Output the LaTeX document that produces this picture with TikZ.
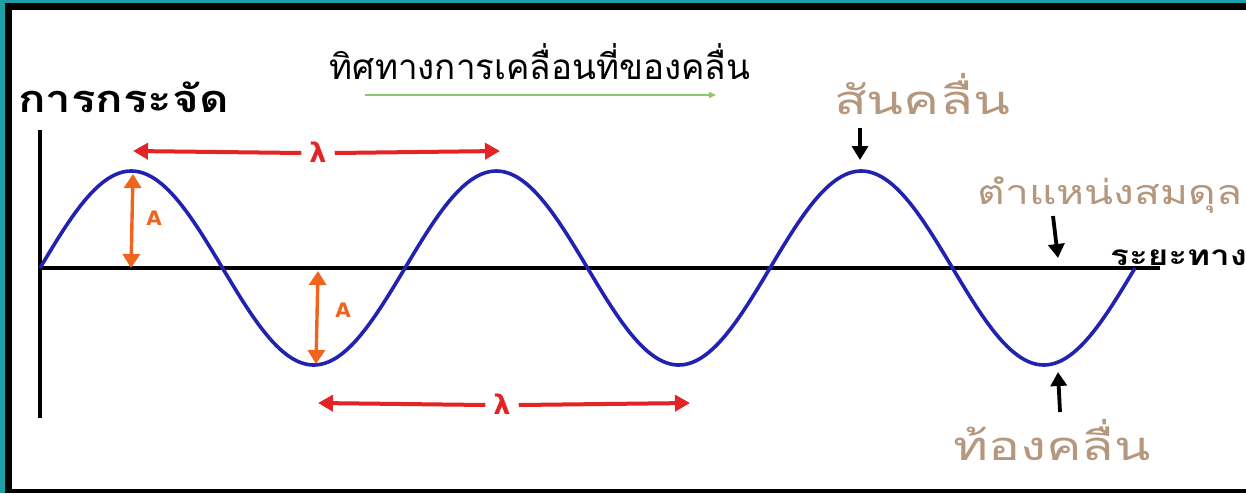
\documentclass[tikz,border=0pt]{standalone}
\usepackage{fontspec}
\newfontfamily\thai[Script=Thai]{Loma}
\newfontfamily\dejavu{DejaVu Sans}
\usetikzlibrary{arrows.meta}
\definecolor{teal0}{HTML}{1E9FA6}
\definecolor{wblue}{HTML}{2222B0}
\definecolor{lred}{HTML}{E22424}
\definecolor{aorange}{HTML}{F0641E}
\definecolor{tan0}{HTML}{B4977C}
\definecolor{lgreen}{HTML}{8CC86E}
\tikzset{
  axis/.style={line width=3.2pt,black},
  wave/.style={line width=3.6pt,wblue},
  lam/.style={line width=4pt,lred,-{Triangle[length=15pt,width=16pt]}},
  amp/.style={line width=3.4pt,aorange,{Triangle[length=14pt,width=17pt]}-{Triangle[length=14pt,width=17pt]}},
  pointer/.style={line width=3.8pt,black,-{Triangle[length=14pt,width=16pt]}},
  tanlbl/.style={text=tan0,inner sep=0pt},
  blacklbl/.style={text=black,inner sep=0pt},
  lamlbl/.style={text=lred,font=\dejavu\bfseries\fontsize{27}{29}\selectfont,inner sep=0pt},
  alb/.style={text=aorange,font=\dejavu\bfseries\fontsize{20}{22}\selectfont,inner sep=0pt}
}
\begin{document}
\begin{tikzpicture}[x=1pt,y=-1pt]
\useasboundingbox (0,0) rectangle (1246,493);
\fill[teal0] (0,0) rectangle (1246,493);
\fill[black] (5,3) rectangle (1246,493);
\fill[white] (12,10) rectangle (1246,489);
% axes
\coordinate (vtop) at (40,130);
\coordinate (vbot) at (40,418);
\coordinate (hl) at (40,268);
\coordinate (hr) at (1160,268);
\draw[axis] (vtop) -- (vbot);
\draw[axis] (hl) -- (hr);
% wave
\draw[wave] plot[domain=40:1135,samples=240,smooth] (\x,{268-97*sin((\x-40)*0.98630137)});
% title and green arrow
\node[font=\thai\fontsize{35}{37}\selectfont,inner sep=0pt] (title) at (540,62) {ทิศทางการเคลื่อนที่ของคลื่น};
\coordinate (g1) at (365,95);
\coordinate (g2) at (716,95);
\draw[lgreen,line width=1.5pt,-{Triangle[length=7pt,width=6pt]}] (g1) -- (g2);
% axis labels
\node[blacklbl,anchor=west,font=\thai\bfseries\fontsize{38}{40}\selectfont] (ylbl) at (18,97) {\scalebox{1.2}[1]{การกระจัด}};
\node[blacklbl,anchor=west,font=\thai\bfseries\fontsize{28}{30}\selectfont] (xlbl) at (1110,258) {\scalebox{1.25}[1]{ระยะทาง}};
% wavelength arrows
\node[lamlbl] (lam1) at (318,152) {λ};
\coordinate (l1a) at (133,151);
\coordinate (l1b) at (500,151);
\draw[lam] ([xshift=-8pt,yshift=-1pt]lam1.west) -- (l1a);
\draw[lam] ([xshift=8pt,yshift=-1pt]lam1.east) -- (l1b);
\node[lamlbl] (lam2) at (502,404) {λ};
\coordinate (l2a) at (318,403);
\coordinate (l2b) at (690,403);
\draw[lam] ([xshift=-8pt,yshift=-1pt]lam2.west) -- (l2a);
\draw[lam] ([xshift=8pt,yshift=-1pt]lam2.east) -- (l2b);
% amplitude arrows
\coordinate (a1t) at (133,174);
\coordinate (a1b) at (131,268);
\draw[amp] (a1t) -- (a1b);
\node[alb] (A1) at (154,218) {A};
\coordinate (a2t) at (318,271);
\coordinate (a2b) at (316,364);
\draw[amp] (a2t) -- (a2b);
\node[alb] (A2) at (343,310) {A};
% crest
\node[tanlbl,font=\thai\fontsize{40}{42}\selectfont] (crest) at (922,94) {\scalebox{1.35}[1]{สันคลื่น}};
\coordinate (c1) at (860,128);
\coordinate (c2) at (860,160);
\draw[pointer] (c1) -- (c2);
% equilibrium
\node[tanlbl,font=\thai\fontsize{34}{36}\selectfont] (eq) at (1110,195) {\scalebox{1.25}[1]{ตำแหน่งสมดุล}};
\coordinate (e1) at (1053,216);
\coordinate (e2) at (1058,258);
\draw[pointer] (e1) -- (e2);
% trough
\node[tanlbl,font=\thai\fontsize{40}{42}\selectfont] (trough) at (1052,440) {\scalebox{1.33}[1]{ท้องคลื่น}};
\coordinate (t1) at (1060,412);
\coordinate (t2) at (1058,372);
\draw[pointer] (t1) -- (t2);
\end{tikzpicture}
\end{document}
